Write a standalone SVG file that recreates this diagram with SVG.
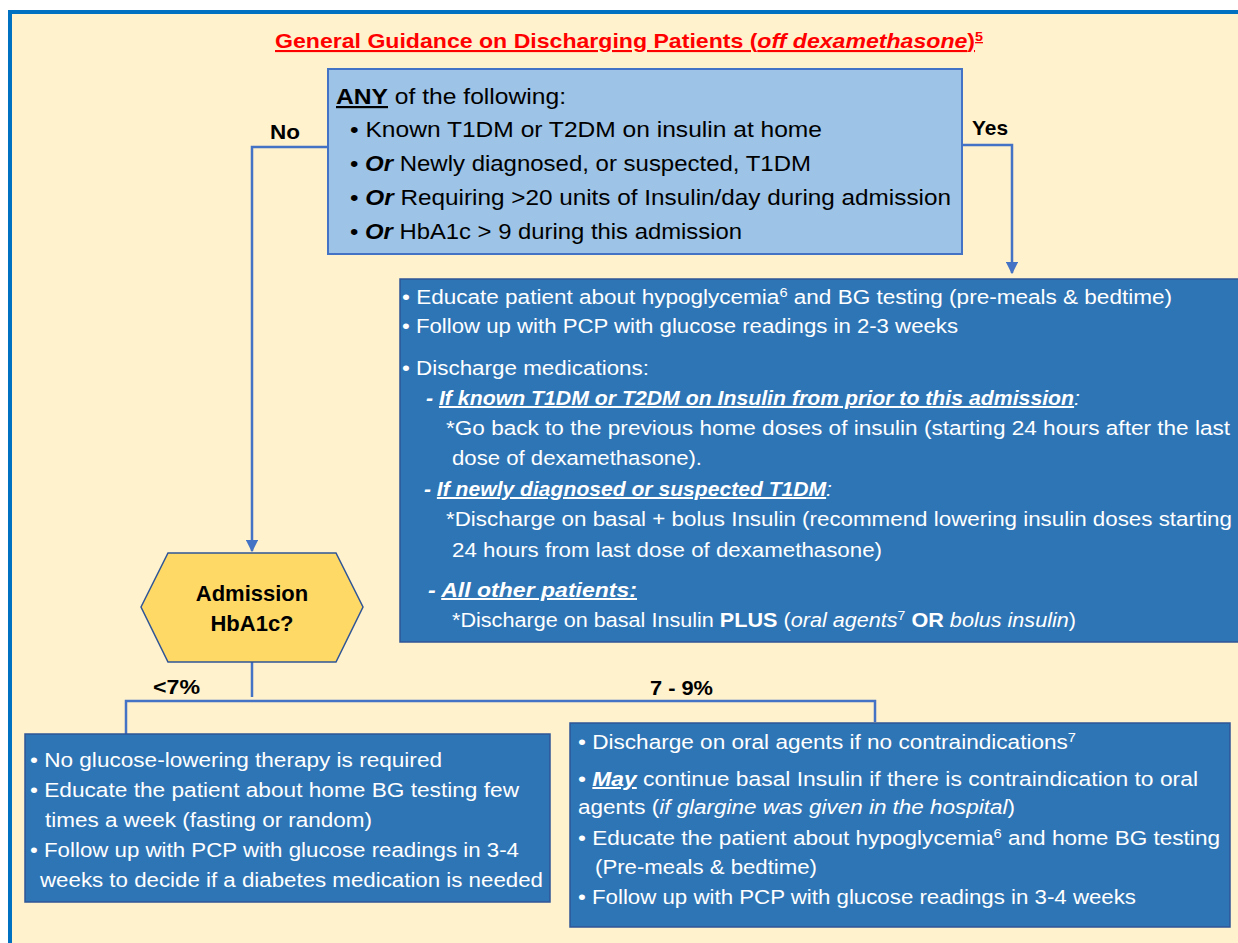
<svg xmlns="http://www.w3.org/2000/svg" width="1238" height="943" viewBox="0 0 1238 943">
<style>
text{font-family:"Liberation Sans",Arial,sans-serif;}
.t{font-size:22px;fill:#000;}
.w{font-size:20px;fill:#fff;}
.lbl{font-size:21px;font-weight:bold;fill:#000;}
.b{font-weight:bold;}
.i{font-style:italic;}
.bi{font-weight:bold;font-style:italic;}
.u{text-decoration:underline;}
.sup{font-size:13px;baseline-shift:super;}
.conn{fill:none;stroke:#4472C4;stroke-width:2.5;}
.dark{fill:#2E75B6;stroke:#2F5597;stroke-width:1.5;}
</style>
<defs>
<marker id="arr" viewBox="0 0 10 10" refX="9" refY="5" markerWidth="5" markerHeight="5" markerUnits="strokeWidth" orient="auto">
<path d="M0,0 L10,5 L0,10 z" fill="#4472C4"/>
</marker>
</defs>
<rect x="0" y="0" width="1238" height="943" fill="#ffffff"/>
<g id="frame">
<rect x="10" y="12" width="1250" height="960" fill="#FFF2CC" stroke="#0070C0" stroke-width="4"/>
</g>
<g id="title">
<text x="275" y="48" textLength="708" lengthAdjust="spacingAndGlyphs" font-size="21" font-weight="bold" fill="#FF0000" text-decoration="underline">General Guidance on Discharging Patients (<tspan class="i">off dexamethasone</tspan>)<tspan class="sup">5</tspan></text>
</g>
<g id="connectors">
<path class="conn" d="M328,147 H252 V551" marker-end="url(#arr)"/>
<path class="conn" d="M962,145 H1012 V273" marker-end="url(#arr)"/>
<path class="conn" d="M252,662 V697"/>
<path class="conn" d="M126,734 V701 H875 V722"/>
</g>
<g id="labels">
<text class="lbl" x="270" y="139" textLength="30" lengthAdjust="spacingAndGlyphs">No</text>
<text class="lbl" x="972" y="135" textLength="36" lengthAdjust="spacingAndGlyphs">Yes</text>
<text class="lbl" x="153" y="694" textLength="47" lengthAdjust="spacingAndGlyphs">&lt;7%</text>
<text class="lbl" x="650" y="695" textLength="63" lengthAdjust="spacingAndGlyphs">7 - 9%</text>
</g>
<g id="q-box">
<rect x="328" y="69" width="634" height="185" fill="#9DC3E6" stroke="#4472C4" stroke-width="2"/>
<text class="t" x="336" y="104" textLength="230" lengthAdjust="spacingAndGlyphs"><tspan class="b u">ANY</tspan> of the following:</text>
<text class="t" x="350" y="137" textLength="472" lengthAdjust="spacingAndGlyphs">• Known T1DM or T2DM on insulin at home</text>
<text class="t" x="350" y="171" textLength="461" lengthAdjust="spacingAndGlyphs">• <tspan class="bi">Or</tspan> Newly diagnosed, or suspected, T1DM</text>
<text class="t" x="350" y="205" textLength="601" lengthAdjust="spacingAndGlyphs">• <tspan class="bi">Or</tspan> Requiring &gt;20 units of Insulin/day during admission</text>
<text class="t" x="350" y="239" textLength="392" lengthAdjust="spacingAndGlyphs">• <tspan class="bi">Or</tspan> HbA1c &gt; 9 during this admission</text>
</g>
<g id="yes-box">
<rect class="dark" x="400" y="279" width="850" height="363"/>
<text class="w" x="402" y="304" textLength="770" lengthAdjust="spacingAndGlyphs">• Educate patient about hypoglycemia<tspan class="sup">6</tspan> and BG testing (pre-meals &amp; bedtime)</text>
<text class="w" x="402" y="333" textLength="556" lengthAdjust="spacingAndGlyphs">• Follow up with PCP with glucose readings in 2-3 weeks</text>
<text class="w" x="402" y="375" textLength="247" lengthAdjust="spacingAndGlyphs">• Discharge medications:</text>
<text class="w" x="426" y="405" textLength="654" lengthAdjust="spacingAndGlyphs"><tspan class="bi">- </tspan><tspan class="bi u">If known T1DM or T2DM on Insulin from prior to this admission</tspan><tspan class="i">:</tspan></text>
<text class="w" x="446" y="435" textLength="784" lengthAdjust="spacingAndGlyphs">*Go back to the previous home doses of insulin (starting 24 hours after the last</text>
<text class="w" x="452" y="465" textLength="250" lengthAdjust="spacingAndGlyphs">dose of dexamethasone).</text>
<text class="w" x="424" y="496" textLength="408" lengthAdjust="spacingAndGlyphs"><tspan class="bi">- </tspan><tspan class="bi u">If newly diagnosed or suspected T1DM</tspan><tspan class="i">:</tspan></text>
<text class="w" x="446" y="526" textLength="786" lengthAdjust="spacingAndGlyphs">*Discharge on basal + bolus Insulin (recommend lowering insulin doses starting</text>
<text class="w" x="452" y="557" textLength="430" lengthAdjust="spacingAndGlyphs">24 hours from last dose of dexamethasone)</text>
<text class="w" x="428" y="597" textLength="209" lengthAdjust="spacingAndGlyphs"><tspan class="bi">- </tspan><tspan class="bi u">All other patients:</tspan></text>
<text class="w" x="452" y="627" textLength="624" lengthAdjust="spacingAndGlyphs">*Discharge on basal Insulin <tspan class="b">PLUS</tspan> (<tspan class="i">oral agents</tspan><tspan class="sup">7</tspan> <tspan class="b">OR</tspan> <tspan class="i">bolus insulin</tspan>)</text>
</g>
<g id="hexagon">
<polygon points="141,607 168,553 336,553 363,607 336,662 168,662" fill="#FFD966" stroke="#2F5597" stroke-width="1.5"/>
<text x="252" y="601" text-anchor="middle" font-size="22" font-weight="bold" fill="#000">Admission</text>
<text x="252" y="631" text-anchor="middle" font-size="22" font-weight="bold" fill="#000">HbA1c?</text>
</g>
<g id="low-box">
<rect class="dark" x="25" y="734" width="525" height="168"/>
<text class="w" x="30" y="767" textLength="412" lengthAdjust="spacingAndGlyphs">• No glucose-lowering therapy is required</text>
<text class="w" x="30" y="797" textLength="489" lengthAdjust="spacingAndGlyphs">• Educate the patient about home BG testing few</text>
<text class="w" x="45" y="827" textLength="327" lengthAdjust="spacingAndGlyphs">times a week (fasting or random)</text>
<text class="w" x="30" y="857" textLength="489" lengthAdjust="spacingAndGlyphs">• Follow up with PCP with glucose readings in 3-4</text>
<text class="w" x="40" y="887" textLength="503" lengthAdjust="spacingAndGlyphs">weeks to decide if a diabetes medication is needed</text>
</g>
<g id="mid-box">
<rect class="dark" x="570" y="723" width="660" height="204"/>
<text class="w" x="578" y="749" textLength="498" lengthAdjust="spacingAndGlyphs">• Discharge on oral agents if no contraindications<tspan class="sup">7</tspan></text>
<text class="w" x="578" y="786" textLength="620" lengthAdjust="spacingAndGlyphs">• <tspan class="bi u">May</tspan> continue basal Insulin if there is contraindication to oral</text>
<text class="w" x="578" y="814" textLength="437" lengthAdjust="spacingAndGlyphs">agents (<tspan class="i">if glargine was given in the hospital</tspan>)</text>
<text class="w" x="578" y="845" textLength="642" lengthAdjust="spacingAndGlyphs">• Educate the patient about hypoglycemia<tspan class="sup">6</tspan> and home BG testing</text>
<text class="w" x="595" y="874" textLength="222" lengthAdjust="spacingAndGlyphs">(Pre-meals &amp; bedtime)</text>
<text class="w" x="578" y="904" textLength="558" lengthAdjust="spacingAndGlyphs">• Follow up with PCP with glucose readings in 3-4 weeks</text>
</g>
</svg>
